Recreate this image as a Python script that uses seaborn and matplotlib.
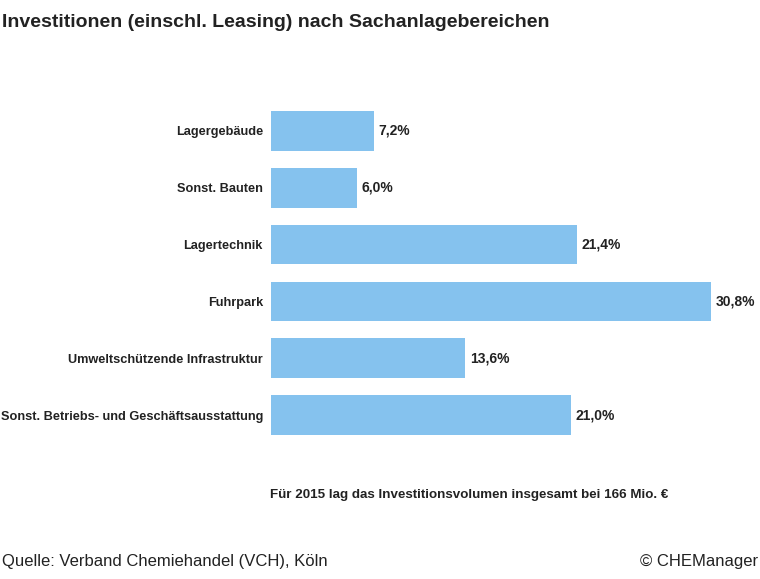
import matplotlib
matplotlib.use("Agg")
import matplotlib.pyplot as plt
import seaborn as sns
import pandas as pd

categories = ["Lagergebäude", "Sonst. Bauten", "Lagertechnik", "Fuhrpark",
              "Umweltschützende Infrastruktur", "Sonst. Betriebs- und Geschäftsausstattung"]
values = [7.2, 6.0, 21.4, 30.8, 13.6, 21.0]
labels = ["7,2%", "6,0%", "21,4%", "30,8%", "13,6%", "21,0%"]

plt.rcParams["font.family"] = ["Liberation Sans", "DejaVu Sans"]
df = pd.DataFrame({"cat": categories, "val": values})

fig = plt.figure(figsize=(7.6, 5.79), dpi=100)
ax = fig.add_axes([0.357, 0.234, 0.601, 0.589])
sns.barplot(data=df, y="cat", x="val", color="#85C2EE", width=0.7, ax=ax, saturation=1)
ax.set_xlim(0, 32)
ax.set_ylim(5.5, -0.5)
for i, (v, l) in enumerate(zip(values, labels)):
    ax.text(v + 0.3, i, l, va="center", ha="left", fontsize=10, fontweight="bold", color="#222222")
ax.set_xlabel(""); ax.set_ylabel("")
ax.set_xticks([])
ax.tick_params(axis="y", length=0, labelsize=9.2, pad=6)
for t in ax.get_yticklabels():
    t.set_fontweight("bold"); t.set_color("#222222")
for s in ax.spines.values():
    s.set_visible(False)

fig.text(0.003, 0.975, "Investitionen (einschl. Leasing) nach Sachanlagebereichen",
         fontsize=14, fontweight="bold", va="top", ha="left", color="#222222")
fig.text(0.355, 0.145, "Für 2015 lag das Investitionsvolumen insgesamt bei 166 Mio. €",
         fontsize=9.6, fontweight="bold", va="center", ha="left", color="#222222")
fig.text(0.003, 0.03, "Quelle: Verband Chemiehandel (VCH), Köln", fontsize=12,
         va="center", ha="left", color="#222222")
fig.text(0.997, 0.03, "© CHEManager", fontsize=12, va="center", ha="right", color="#222222")
fig.savefig("out.png", dpi=100)
